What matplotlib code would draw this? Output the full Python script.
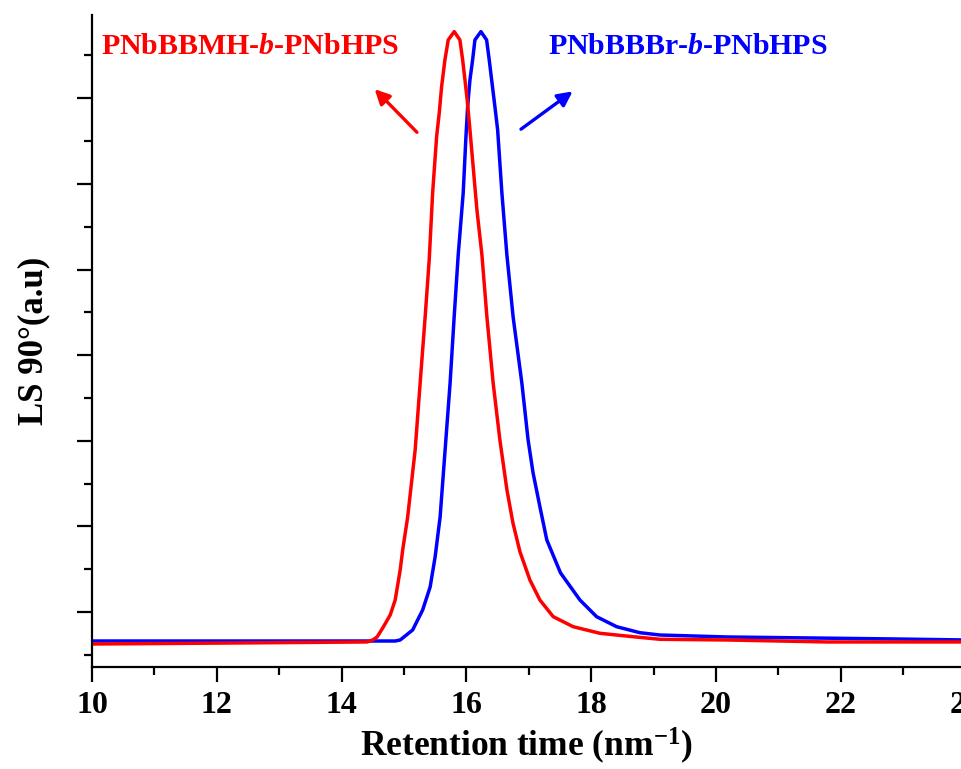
import matplotlib
matplotlib.use("Agg")
import matplotlib.pyplot as plt
from matplotlib.ticker import MultipleLocator

plt.rcParams['font.family'] = 'Liberation Serif'
plt.rcParams['font.weight'] = 'bold'
plt.rcParams['mathtext.fontset'] = 'custom'
plt.rcParams['mathtext.rm'] = 'Liberation Serif:bold'
plt.rcParams['mathtext.bf'] = 'Liberation Serif:bold'
plt.rcParams['mathtext.it'] = 'Liberation Serif:italic:bold'

# values (retention time, LS signal in a.u.)
red_t = [10.00, 12.32, 14.41, 14.50, 14.57, 14.66, 14.78, 14.86, 14.94, 14.98,
         15.06, 15.18, 15.26, 15.34, 15.405, 15.46, 15.524, 15.566, 15.604, 15.657,
         15.710, 15.806, 15.897, 15.941, 15.978, 16.014, 16.058, 16.17, 16.25, 16.33,
         16.43, 16.538, 16.651, 16.747, 16.859, 17.019, 17.179, 17.393, 17.713, 18.141,
         18.675, 19.103, 20.18, 21.78, 24.00]
red_ls = [0.626, 0.638, 0.650, 0.673, 0.708, 0.813, 0.965, 1.140, 1.491, 1.724,
          2.110, 2.893, 3.675, 4.446, 5.112, 5.895, 6.553, 6.829, 7.137, 7.449,
          7.682, 7.779, 7.682, 7.449, 7.215, 6.981, 6.631, 5.696, 5.171, 4.446,
          3.675, 3.009, 2.425, 2.040, 1.705, 1.374, 1.140, 0.945, 0.828, 0.751,
          0.711, 0.681, 0.673, 0.650, 0.650]

blue_t = [10.00, 14.86, 14.94, 15.14, 15.30, 15.42, 15.50, 15.58, 15.66, 15.74,
          15.805, 15.87, 15.95, 15.994, 16.021, 16.058, 16.101, 16.138, 16.234, 16.325,
          16.367, 16.406, 16.458, 16.502, 16.57, 16.65, 16.75, 16.89, 16.99, 17.07,
          17.18, 17.29, 17.51, 17.821, 18.088, 18.409, 18.782, 19.103, 20.18, 22.84,
          24.00]
blue_ls = [0.661, 0.661, 0.673, 0.790, 1.023, 1.292, 1.643, 2.110, 2.893, 3.675,
           4.446, 5.171, 5.895, 6.553, 6.903, 7.215, 7.449, 7.682, 7.779, 7.682,
           7.449, 7.215, 6.903, 6.631, 5.895, 5.171, 4.446, 3.675, 3.009, 2.624,
           2.227, 1.841, 1.456, 1.140, 0.945, 0.828, 0.758, 0.731, 0.708, 0.685,
           0.673]

red_name = 'PNbBBMH-$\\it{b}$-PNbHPS'
blue_name = 'PNbBBBr-$\\it{b}$-PNbHPS'

fig = plt.figure(figsize=(9.62, 7.69), dpi=100)
ax = fig.add_axes([0.0956, 0.1326, 0.908, 0.848])

ax.plot(blue_t, blue_ls, color='#0000ff', lw=2.5, solid_joinstyle='round')
ax.plot(red_t, red_ls, color='#ff0000', lw=2.5, solid_joinstyle='round')

ax.set_xlim(10, 24)
ax.set_ylim(0.357, 7.974)

ax.xaxis.set_major_locator(MultipleLocator(2))
ax.xaxis.set_minor_locator(MultipleLocator(1))
ax.yaxis.set_major_locator(MultipleLocator(1))
ax.yaxis.set_minor_locator(MultipleLocator(0.5))
ax.set_yticklabels([])
ax.tick_params(which='major', direction='out', length=11, width=1.6, labelsize=23, pad=6)
ax.tick_params(which='minor', direction='out', length=5.5, width=1.6)
for lab in ax.get_xticklabels():
    lab.set_fontweight('bold')

for s in ['top', 'right']:
    ax.spines[s].set_visible(False)
for s in ['left', 'bottom']:
    ax.spines[s].set_linewidth(1.6)

ax.set_xlabel('Retention time (nm$^{-1}$)', fontsize=25.5, fontweight='bold')
ax.set_ylabel('LS 90°(a.u)', fontsize=25, fontweight='bold')
ax.xaxis.set_label_coords(0.497, -0.09)
ax.yaxis.set_label_coords(-0.048, 0.5)

ax.text(10.14, 7.60, red_name, color='#ff0000', fontsize=21.5, fontweight='bold', va='center', ha='left')
ax.text(17.31, 7.60, blue_name, color='#0000ff', fontsize=21.5, fontweight='bold', va='center', ha='left')

ax.annotate('', xy=(14.50, 7.13), xytext=(15.24, 6.58),
            arrowprops=dict(arrowstyle='-|>', color='#ff0000', lw=2.4, mutation_scale=22))
ax.annotate('', xy=(17.74, 7.10), xytext=(16.84, 6.62),
            arrowprops=dict(arrowstyle='-|>', color='#0000ff', lw=2.4, mutation_scale=22))

fig.savefig('out.png', dpi=100)
